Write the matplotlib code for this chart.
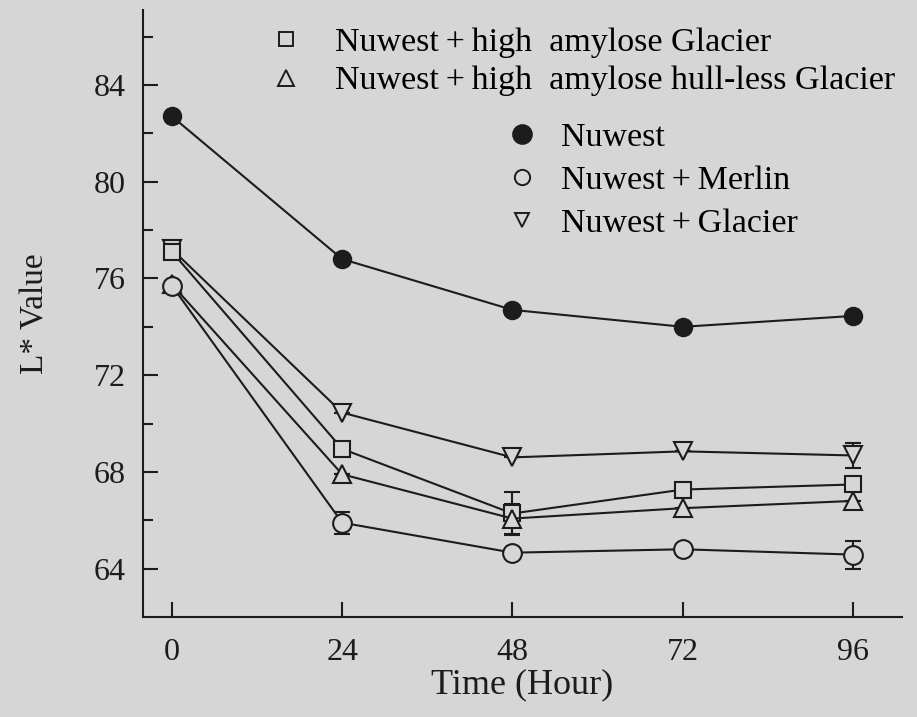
import numpy as np
import matplotlib
matplotlib.use('Agg')
from matplotlib import pyplot as plt
from matplotlib.lines import Line2D

# time points (hours)
hours = [0, 24, 48, 72, 96]

# L* values
nuwest = [82.7, 76.8, 74.7, 74.0, 74.45]
merlin = [75.7, 65.9, 64.66, 64.8, 64.58]
glacier = [77.2, 70.45, 68.6, 68.85, 68.68]
ha_glacier = [77.1, 68.95, 66.28, 67.27, 67.48]
ha_hulless = [75.75, 67.9, 66.07, 66.5, 66.8]

# error bars (only the visible ones)
err_merlin = [0.0, 0.45, 0.0, 0.0, 0.58]
err_glacier = [0.0, 0.0, 0.0, 0.0, 0.5]
err_ha_glacier = [0.0, 0.0, 0.87, 0.0, 0.0]
err_ha_hulless = [0.0, 0.0, 0.62, 0.0, 0.0]

labels_top = ['Nuwest\u2009+\u2009high  amylose Glacier',
              'Nuwest\u2009+\u2009high  amylose hull-less Glacier']
labels_bottom = ['Nuwest', 'Nuwest\u2009+\u2009Merlin',
                 'Nuwest\u2009+\u2009Glacier']

BG = '#d6d6d6'
INK = '#1c1c1c'

plt.rcParams['font.family'] = ['Liberation Serif', 'DejaVu Serif']

fig = plt.figure(figsize=(9.17, 7.17), dpi=100)
fig.patch.set_facecolor(BG)
ax = fig.add_axes([143 / 917, 1 - 617 / 717, 759 / 917, 607 / 717])
ax.set_facecolor(BG)

def series(y, err, marker, ms, filled=False):
    face = INK if filled else BG
    ax.errorbar(hours, y, yerr=err, color=INK, lw=1.5, elinewidth=1.5,
                capsize=6, capthick=1.5, marker=marker, ms=ms,
                mfc=face, mec=INK, mew=1.5)

series(nuwest, None, 'o', 12.5, filled=True)
series(glacier, err_glacier, 'v', 13.5)
series(ha_glacier, err_ha_glacier, 's', 11.5)
series(ha_hulless, err_ha_hulless, '^', 13)
series(merlin, err_merlin, 'o', 13.5)

ax.set_xlim(-4.08, 102.9)
ax.set_ylim(62, 87.1)
ax.set_xticks(hours)
ax.set_yticks([64, 68, 72, 76, 80, 84])
ax.set_yticks(np.arange(66, 87, 4), minor=True)

for side in ['top', 'right']:
    ax.spines[side].set_visible(False)
for side in ['left', 'bottom']:
    ax.spines[side].set_linewidth(1.5)
    ax.spines[side].set_color(INK)

ax.tick_params(axis='both', which='major', direction='in', length=11,
               width=1.5, color=INK, labelsize=23, labelcolor=INK)
ax.tick_params(axis='y', which='major', pad=12.5)
ax.tick_params(axis='x', which='major', pad=15)
ax.tick_params(axis='y', which='minor', direction='in', length=7,
               width=1.5, color=INK)

ax.set_xlabel('Time (Hour)', fontsize=26, color=INK, labelpad=1)
ax.set_ylabel('L* Value', fontsize=24, color=INK, labelpad=31)

def handle(marker, ms, filled=False):
    return Line2D([], [], ls='none', marker=marker, ms=ms,
                  mfc=INK if filled else BG, mec=INK, mew=1.4)

leg1 = ax.legend([handle('s', 10), handle('^', 12)], labels_top,
                 loc='upper left', bbox_to_anchor=(269 / 917, 1 - 27 / 717),
                 bbox_transform=fig.transFigure, frameon=False,
                 fontsize=24.5, handlelength=1.0, handletextpad=0.93,
                 labelspacing=0.23, borderpad=0, borderaxespad=0)
ax.add_artist(leg1)
ax.legend([handle('o', 13.5, True), handle('o', 11), handle('v', 10)],
          labels_bottom,
          loc='upper left', bbox_to_anchor=(505 / 917, 1 - 122 / 717),
          bbox_transform=fig.transFigure, frameon=False,
          fontsize=24.5, handlelength=1.0, handletextpad=0.65,
          labelspacing=0.36, borderpad=0, borderaxespad=0)

fig.savefig('out.png', dpi=100, facecolor=BG)
